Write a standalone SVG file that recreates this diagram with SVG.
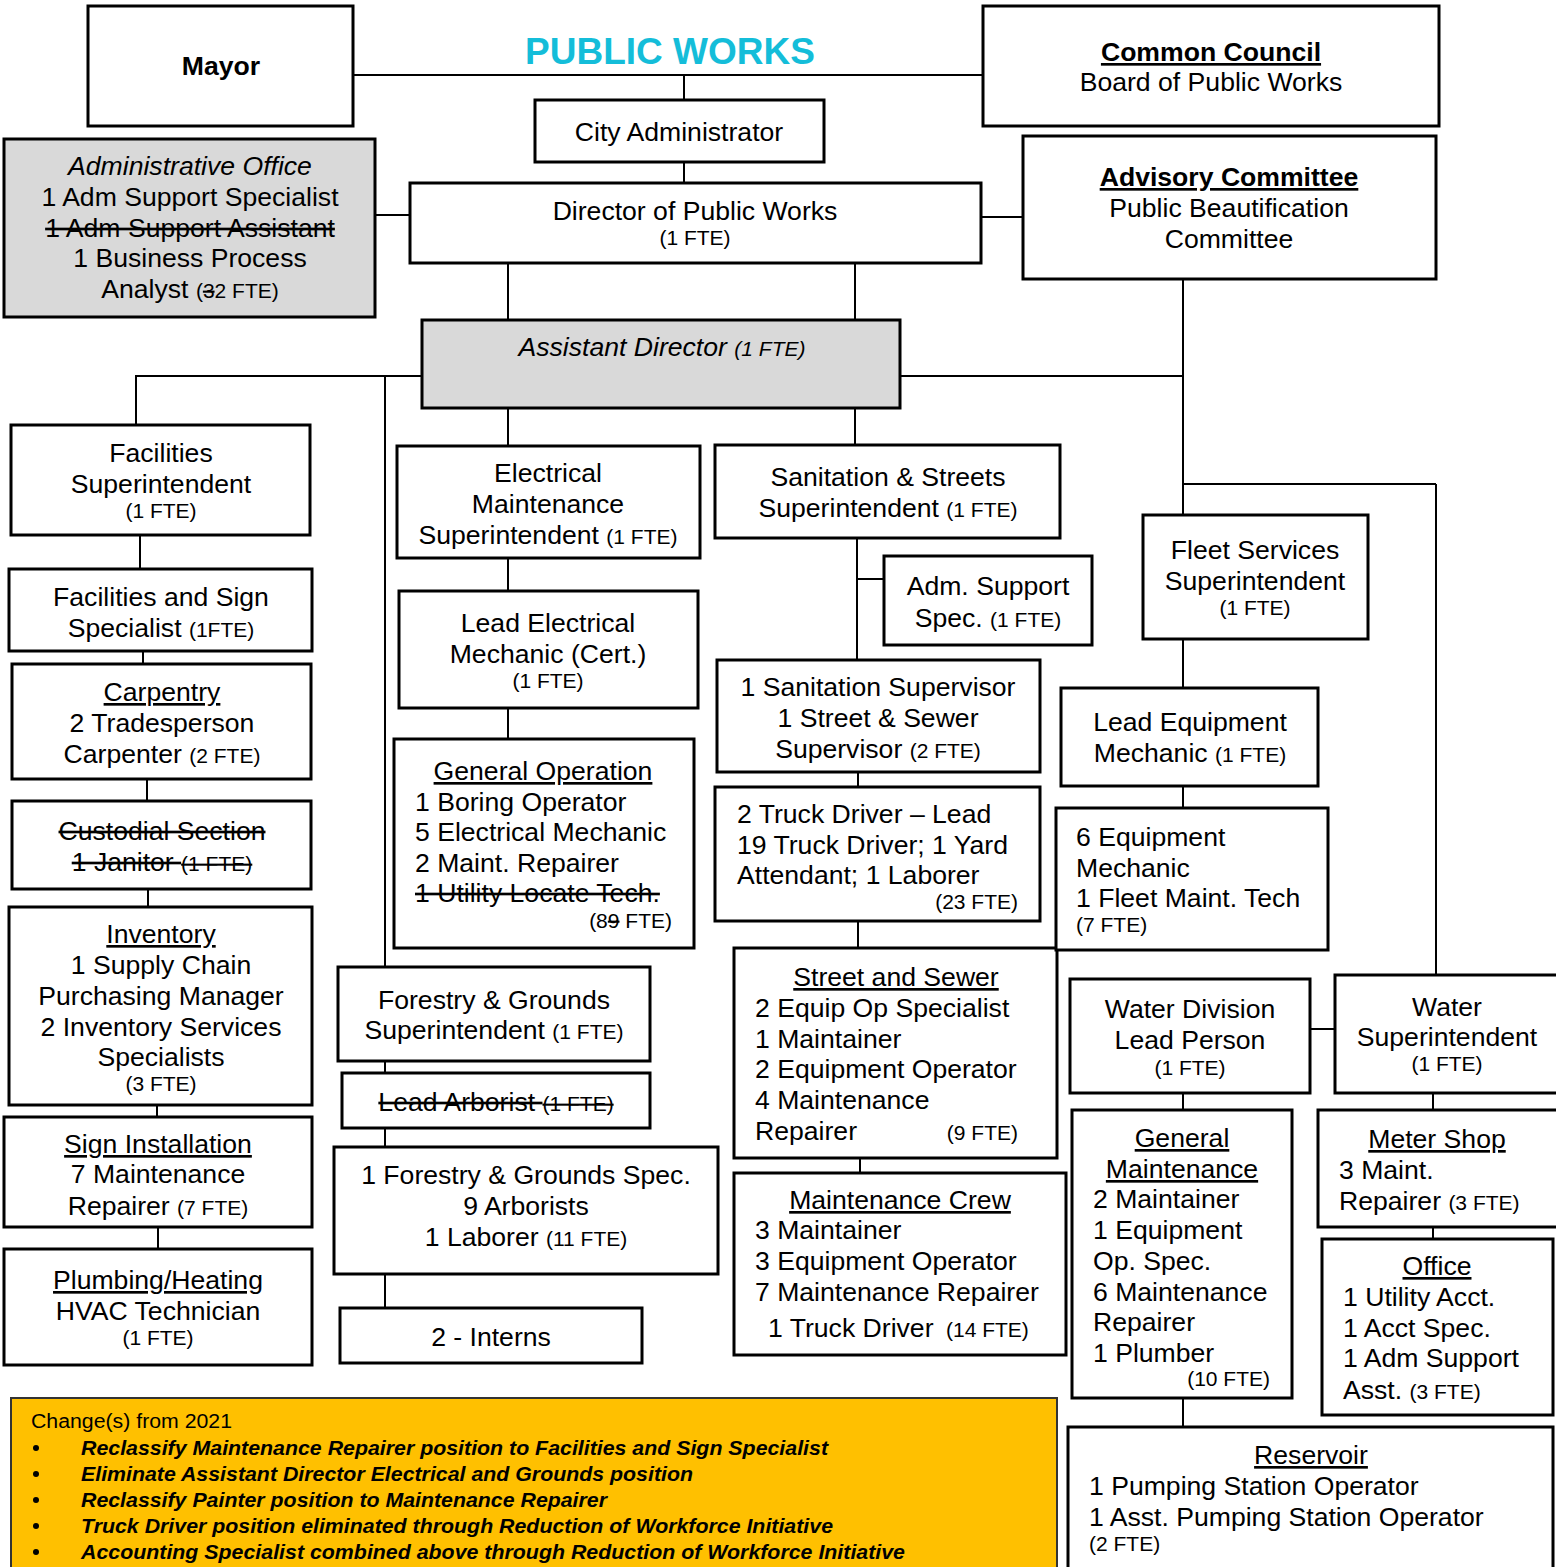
<svg xmlns="http://www.w3.org/2000/svg" width="1556" height="1567" viewBox="0 0 1556 1567">
<style>
text{font-family:"Liberation Sans",Arial,sans-serif;font-size:26.6px;fill:#000}
.c{text-anchor:middle}
.s{font-size:21px}
.b{font-weight:bold}
.i{font-style:italic}
.u{text-decoration:underline}
.x{text-decoration:line-through}
.box{fill:#fff;stroke:#000;stroke-width:3}
.g{fill:#d9d9d9;stroke:#000;stroke-width:3}
.ln{stroke:#000;stroke-width:2;fill:none}
.title{font-size:37px;font-weight:bold;fill:#14bdd9}
.lg{font-size:20px}
.lb{font-size:20px;font-weight:bold;font-style:italic}
</style>
<rect width="1556" height="1567" fill="#fff"/>
<g id="connectors">
<path class="ln" d="M353,75H983M684,75V100M684,162V183M375,215H410M981,217H1023"/>
<path class="ln" d="M508,263V320M855,263V320"/>
<path class="ln" d="M136,425V376H422M385,376V1308"/>
<path class="ln" d="M900,376H1183M1183,279V515M1183,484H1436M1436,484V975"/>
<path class="ln" d="M508,408V446M855,408V445"/>
<path class="ln" d="M140,535V569M143,651V664M147,779V801M148,889V907M157,1105V1117M158,1227V1249"/>
<path class="ln" d="M508,558V591M508,708V739"/>
<path class="ln" d="M857,538V660M857,579H884M858,772V787M858,921V948M860,1158V1173"/>
<path class="ln" d="M1183,639V688M1183,786V808"/>
<path class="ln" d="M1310,1029H1335M1183,1093V1110M1183,1398V1427M1433,1093V1110M1433,1227V1239"/>
</g>
<text class="title c" x="670" y="64">PUBLIC WORKS</text>
<g id="mayor"><rect class="box" x="88" y="6" width="265" height="120"/><text class="c b" x="221" y="75">Mayor</text></g>
<g id="council"><rect class="box" x="983" y="6" width="456" height="120"/><text class="c b u" x="1211" y="61">Common Council</text><text class="c" x="1211" y="91">Board of Public Works</text></g>
<g id="cityadmin"><rect class="box" x="535" y="100" width="289" height="62"/><text class="c" x="679" y="141">City Administrator</text></g>
<g id="director"><rect class="box" x="410" y="183" width="571" height="80"/><text class="c" x="695" y="220">Director of Public Works</text><text class="c s" x="695" y="245">(1 FTE)</text></g>
<g id="adminoffice"><rect class="g" x="4" y="139" width="371" height="178"/>
<text class="c i" x="190" y="175">Administrative Office</text>
<text class="c" x="190" y="206">1 Adm Support Specialist</text>
<text class="c x" x="190" y="237">1 Adm Support Assistant</text>
<text class="c" x="190" y="267">1 Business Process</text>
<text class="c" x="190" y="298">Analyst <tspan class="s">(<tspan class="x">3</tspan>2 FTE)</tspan></text></g>
<g id="advisory"><rect class="box" x="1023" y="136" width="413" height="143"/><text class="c b u" x="1229" y="186">Advisory Committee</text><text class="c" x="1229" y="217">Public Beautification</text><text class="c" x="1229" y="248">Committee</text></g>
<g id="asstdirector"><rect class="g" x="422" y="320" width="478" height="88"/><text class="c i" x="662" y="356">Assistant Director <tspan class="s">(1 FTE)</tspan></text></g>

<g id="facsupt"><rect class="box" x="11" y="425" width="299" height="110"/><text class="c" x="161" y="462">Facilities</text><text class="c" x="161" y="493">Superintendent</text><text class="c s" x="161" y="518">(1 FTE)</text></g>
<g id="facsign"><rect class="box" x="9" y="569" width="303" height="82"/><text class="c" x="161" y="606">Facilities and Sign</text><text class="c" x="161" y="637">Specialist <tspan class="s">(1FTE)</tspan></text></g>
<g id="carpentry"><rect class="box" x="12" y="664" width="299" height="115"/><text class="c u" x="162" y="701">Carpentry</text><text class="c" x="162" y="732">2 Tradesperson</text><text class="c" x="162" y="763">Carpenter <tspan class="s">(2 FTE)</tspan></text></g>
<g id="custodial"><rect class="box" x="12" y="801" width="299" height="88"/><text class="c u x" x="162" y="840">Custodial Section</text><text class="c x" x="162" y="871">1 Janitor <tspan class="s">(1 FTE)</tspan></text></g>
<g id="inventory"><rect class="box" x="9" y="907" width="303" height="198"/><text class="c u" x="161" y="943">Inventory</text><text class="c" x="161" y="974">1 Supply Chain</text><text class="c" x="161" y="1005">Purchasing Manager</text><text class="c" x="161" y="1036">2 Inventory Services</text><text class="c" x="161" y="1066">Specialists</text><text class="c s" x="161" y="1091">(3 FTE)</text></g>
<g id="signinstall"><rect class="box" x="4" y="1117" width="308" height="110"/><text class="c u" x="158" y="1153">Sign Installation</text><text class="c" x="158" y="1183">7 Maintenance</text><text class="c" x="158" y="1215">Repairer <tspan class="s">(7 FTE)</tspan></text></g>
<g id="plumbing"><rect class="box" x="4" y="1249" width="308" height="116"/><text class="c u" x="158" y="1289">Plumbing/Heating</text><text class="c" x="158" y="1320">HVAC Technician</text><text class="c s" x="158" y="1345">(1 FTE)</text></g>

<g id="forestry"><rect class="box" x="338" y="967" width="312" height="94"/><text class="c" x="494" y="1009">Forestry &amp; Grounds</text><text class="c" x="494" y="1039">Superintendent <tspan class="s">(1 FTE)</tspan></text></g>
<g id="leadarborist"><rect class="box" x="342" y="1073" width="308" height="55"/><text class="c x" x="496" y="1111">Lead Arborist <tspan class="s">(1 FTE)</tspan></text></g>
<g id="forestryspec"><rect class="box" x="334" y="1147" width="384" height="127"/><text class="c" x="526" y="1184">1 Forestry &amp; Grounds Spec.</text><text class="c" x="526" y="1215">9 Arborists</text><text class="c" x="526" y="1246">1 Laborer <tspan class="s">(11 FTE)</tspan></text></g>
<g id="interns"><rect class="box" x="340" y="1308" width="302" height="55"/><text class="c" x="491" y="1346">2 - Interns</text></g>

<g id="electrical"><rect class="box" x="397" y="446" width="303" height="112"/><text class="c" x="548" y="482">Electrical</text><text class="c" x="548" y="513">Maintenance</text><text class="c" x="548" y="544">Superintendent <tspan class="s">(1 FTE)</tspan></text></g>
<g id="leadelec"><rect class="box" x="399" y="591" width="299" height="117"/><text class="c" x="548" y="632">Lead Electrical</text><text class="c" x="548" y="663">Mechanic (Cert.)</text><text class="c s" x="548" y="688">(1 FTE)</text></g>
<g id="genop"><rect class="box" x="394" y="739" width="300" height="209"/><text class="c u" x="543" y="780">General Operation</text><text x="415" y="811">1 Boring Operator</text><text x="415" y="841">5 Electrical Mechanic</text><text x="415" y="872">2 Maint. Repairer</text><text class="x" x="415" y="902">1 Utility Locate Tech.</text><text class="s" x="672" y="928" text-anchor="end">(8<tspan class="x">9</tspan> FTE)</text></g>

<g id="sanitation"><rect class="box" x="715" y="445" width="345" height="93"/><text class="c" x="888" y="486">Sanitation &amp; Streets</text><text class="c" x="888" y="517">Superintendent <tspan class="s">(1 FTE)</tspan></text></g>
<g id="admsupport"><rect class="box" x="884" y="556" width="208" height="89"/><text class="c" x="988" y="595">Adm. Support</text><text class="c" x="988" y="627">Spec. <tspan class="s">(1 FTE)</tspan></text></g>
<g id="sansupervisor"><rect class="box" x="717" y="660" width="323" height="112"/><text class="c" x="878" y="696">1 Sanitation Supervisor</text><text class="c" x="878" y="727">1 Street &amp; Sewer</text><text class="c" x="878" y="758">Supervisor <tspan class="s">(2 FTE)</tspan></text></g>
<g id="truckdriver"><rect class="box" x="715" y="787" width="325" height="134"/><text x="737" y="823">2 Truck Driver – Lead</text><text x="737" y="854">19 Truck Driver; 1 Yard</text><text x="737" y="884">Attendant; 1 Laborer</text><text class="s" x="1018" y="909" text-anchor="end">(23 FTE)</text></g>
<g id="streetsewer"><rect class="box" x="734" y="948" width="323" height="210"/><text class="c u" x="896" y="986">Street and Sewer</text><text x="755" y="1017">2 Equip Op Specialist</text><text x="755" y="1048">1 Maintainer</text><text x="755" y="1078">2 Equipment Operator</text><text x="755" y="1109">4 Maintenance</text><text x="755" y="1140">Repairer</text><text class="s" x="1018" y="1140" text-anchor="end">(9 FTE)</text></g>
<g id="maintcrew"><rect class="box" x="734" y="1173" width="332" height="182"/><text class="c u" x="900" y="1209">Maintenance Crew</text><text x="755" y="1239">3 Maintainer</text><text x="755" y="1270">3 Equipment Operator</text><text x="755" y="1301">7 Maintenance Repairer</text><text x="768" y="1337">1 Truck Driver <tspan class="s" x="946">(14 FTE)</tspan></text></g>

<g id="fleet"><rect class="box" x="1143" y="515" width="225" height="124"/><text class="c" x="1255" y="559">Fleet Services</text><text class="c" x="1255" y="590">Superintendent</text><text class="c s" x="1255" y="615">(1 FTE)</text></g>
<g id="leadequip"><rect class="box" x="1061" y="688" width="257" height="98"/><text class="c" x="1190" y="731">Lead Equipment</text><text class="c" x="1190" y="762">Mechanic <tspan class="s">(1 FTE)</tspan></text></g>
<g id="equipmech"><rect class="box" x="1056" y="808" width="272" height="142"/><text x="1076" y="846">6 Equipment</text><text x="1076" y="877">Mechanic</text><text x="1076" y="907">1 Fleet Maint. Tech</text><text class="s" x="1076" y="932">(7 FTE)</text></g>

<g id="waterlead"><rect class="box" x="1070" y="979" width="240" height="114"/><text class="c" x="1190" y="1018">Water Division</text><text class="c" x="1190" y="1049">Lead Person</text><text class="c s" x="1190" y="1075">(1 FTE)</text></g>
<g id="watersupt"><rect class="box" x="1335" y="975" width="230" height="118"/><text class="c" x="1447" y="1016">Water</text><text class="c" x="1447" y="1046">Superintendent</text><text class="c s" x="1447" y="1071">(1 FTE)</text></g>
<g id="genmaint"><rect class="box" x="1072" y="1110" width="220" height="288"/><text class="c u" x="1182" y="1147">General</text><text class="c u" x="1182" y="1178">Maintenance</text><text x="1093" y="1208">2 Maintainer</text><text x="1093" y="1239">1 Equipment</text><text x="1093" y="1270">Op. Spec.</text><text x="1093" y="1301">6 Maintenance</text><text x="1093" y="1331">Repairer</text><text x="1093" y="1362">1 Plumber</text><text class="s" x="1270" y="1386" text-anchor="end">(10 FTE)</text></g>
<g id="metershop"><rect class="box" x="1318" y="1110" width="250" height="117"/><text class="c u" x="1437" y="1148">Meter Shop</text><text x="1339" y="1179">3 Maint.</text><text x="1339" y="1210">Repairer <tspan class="s">(3 FTE)</tspan></text></g>
<g id="office"><rect class="box" x="1322" y="1239" width="231" height="176"/><text class="c u" x="1437" y="1275">Office</text><text x="1343" y="1306">1 Utility Acct.</text><text x="1343" y="1337">1 Acct Spec.</text><text x="1343" y="1367">1 Adm Support</text><text x="1343" y="1399">Asst. <tspan class="s">(3 FTE)</tspan></text></g>
<g id="reservoir"><rect class="box" x="1068" y="1427" width="485" height="142"/><text class="c u" x="1311" y="1464">Reservoir</text><text x="1089" y="1495">1 Pumping Station Operator</text><text x="1089" y="1526">1 Asst. Pumping Station Operator</text><text class="s" x="1089" y="1551">(2 FTE)</text></g>

<g id="legend"><rect x="11" y="1398" width="1046" height="175" fill="#ffc000" stroke="#333" stroke-width="2"/>
<text class="lg" x="31" y="1428" textLength="201" lengthAdjust="spacingAndGlyphs">Change(s) from 2021</text>
<g fill="#000"><circle cx="36" cy="1448" r="3"/><circle cx="36" cy="1474" r="3"/><circle cx="36" cy="1500" r="3"/><circle cx="36" cy="1526" r="3"/><circle cx="36" cy="1552" r="3"/></g>
<text class="lb" x="81" y="1455" textLength="747" lengthAdjust="spacingAndGlyphs">Reclassify Maintenance Repairer position to Facilities and Sign Specialist</text>
<text class="lb" x="81" y="1481" textLength="612" lengthAdjust="spacingAndGlyphs">Eliminate Assistant Director Electrical and Grounds position</text>
<text class="lb" x="81" y="1507" textLength="526" lengthAdjust="spacingAndGlyphs">Reclassify Painter position to Maintenance Repairer</text>
<text class="lb" x="81" y="1533" textLength="752" lengthAdjust="spacingAndGlyphs">Truck Driver position eliminated through Reduction of Workforce Initiative</text>
<text class="lb" x="81" y="1559" textLength="824" lengthAdjust="spacingAndGlyphs">Accounting Specialist combined above through Reduction of Workforce Initiative</text>
</g>
</svg>
